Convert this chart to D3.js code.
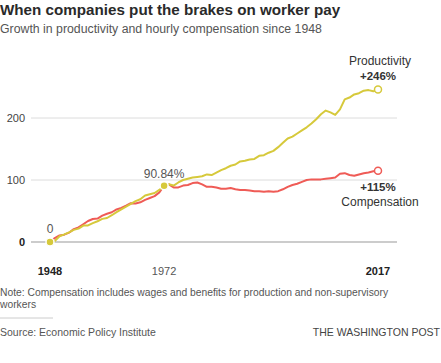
<!DOCTYPE html>
<html>
<head>
<meta charset="utf-8">
<script src="https://cdn.jsdelivr.net/npm/d3@7"></script>
<style>
  body { margin: 0; background: #fff; }
  svg { font-family: "Liberation Sans", Arial, sans-serif; }
  .ylab { fill: #444; font-size: 11px; }
</style>
</head>
<body>
<div id="chart"></div>
<script>
// data: cumulative % change since 1948
var years = d3.range(1948, 2018);

var productivity = [
  0, 1.5, 9.3, 12.3, 15.6, 19.5, 21.6, 26.5, 26.7, 30.4,
  33.5, 37.3, 38.7, 43.2, 48.2, 52.7, 57.2, 61.6, 66, 69,
  75, 77, 79, 84, 90.84, 93, 91, 96, 100, 102,
  104, 105, 106, 109, 108, 112, 116, 119, 123, 125,
  130, 131, 133, 134, 139, 140, 144, 147, 153, 160,
  167, 170, 175, 180, 185, 191, 198, 206, 212, 209,
  205, 214, 230, 233, 238, 240, 244, 245, 243, 246
];

var compensation = [
  0, 6.3, 10.5, 11.8, 15.0, 20.8, 23.5, 28.7, 33.9, 37.1,
  37.8, 42.5, 45.5, 48.0, 52.5, 55.1, 58.5, 62.5, 62, 64,
  68, 71, 74, 80, 90.84, 93, 88, 88, 91, 92,
  95, 96, 93, 89, 89, 88, 86, 86, 87, 85,
  84, 84, 83, 82, 82, 81, 82, 81, 82, 85,
  89, 92, 94, 97, 100, 101, 101, 101, 102, 103,
  104, 110, 111, 108, 107, 109, 111, 112, 114, 115
];

var yTicks = [0, 100, 200];
var xTicks = [1948, 1972, 2017];

var colorProd = "#d6c93b",
    colorComp = "#ef5b56";

var width = 441, height = 363;

var svg = d3.select("#chart").append("svg")
    .attr("width", width)
    .attr("height", height);

var x = d3.scaleLinear()
    .domain([1948, 2017])
    .range([50, 378]);

var y = d3.scaleLinear()
    .domain([0, 200])
    .range([242, 118]);

// title + subtitle
svg.append("text")
    .attr("x", 0).attr("y", 15)
    .style("font-size", "15.2px")
    .style("font-weight", "bold")
    .style("fill", "#2a2a2a")
    .text("When companies put the brakes on worker pay");

svg.append("text")
    .attr("x", 0).attr("y", 33)
    .style("font-size", "12.3px")
    .style("fill", "#555")
    .text("Growth in productivity and hourly compensation since 1948");

// gridlines
svg.append("g").selectAll("line")
    .data(yTicks)
  .enter().append("line")
    .attr("x1", 31).attr("x2", 397)
    .attr("y1", function(d) { return y(d); })
    .attr("y2", function(d) { return y(d); })
    .style("stroke", function(d) { return d === 0 ? "#bbb" : "#dcdcdc"; })
    .style("stroke-width", function(d) { return d === 0 ? 1.5 : 1; });

svg.selectAll(".ylab")
    .data(yTicks)
  .enter().append("text")
    .attr("class", "ylab")
    .attr("x", 25)
    .attr("y", function(d) { return y(d); })
    .attr("dy", "0.35em")
    .attr("text-anchor", "end")
    .style("font-weight", function(d) { return d === 0 ? "bold" : "normal"; })
    .style("fill", function(d) { return d === 0 ? "#222" : "#444"; })
    .text(function(d) { return d; });

// x labels
svg.selectAll(".xlab")
    .data(xTicks)
  .enter().append("text")
    .attr("class", "xlab")
    .attr("x", function(d) { return x(d); })
    .attr("y", 275)
    .attr("text-anchor", "middle")
    .style("font-size", "11px")
    .style("fill", function(d) { return d === 1972 ? "#555" : "#222"; })
    .style("font-weight", function(d) { return d === 1972 ? "normal" : "bold"; })
    .text(function(d) { return d; });

var line = d3.line()
    .x(function(d, i) { return x(years[i]); })
    .y(function(d) { return y(d); });

svg.append("path")
    .datum(compensation)
    .attr("fill", "none")
    .attr("stroke", colorComp)
    .attr("stroke-width", 2)
    .attr("stroke-linejoin", "round")
    .attr("d", line);

svg.append("path")
    .datum(productivity)
    .attr("fill", "none")
    .attr("stroke", colorProd)
    .attr("stroke-width", 2)
    .attr("stroke-linejoin", "round")
    .attr("d", line);

// markers
var i1972 = years.indexOf(1972), iLast = years.length - 1;

svg.selectAll(".dotFilled")
    .data([0, i1972])
  .enter().append("circle")
    .attr("class", "dotFilled")
    .attr("cx", function(i) { return x(years[i]); })
    .attr("cy", function(i) { return y(productivity[i]); })
    .attr("r", 4)
    .attr("fill", colorProd)
    .attr("stroke", "#fff")
    .attr("stroke-width", 1.5);

svg.append("circle")
    .attr("cx", x(years[iLast])).attr("cy", y(productivity[iLast]))
    .attr("r", 3.5)
    .attr("fill", "#fff")
    .attr("stroke", colorProd)
    .attr("stroke-width", 1.5);

svg.append("circle")
    .attr("cx", x(years[iLast])).attr("cy", y(compensation[iLast]))
    .attr("r", 3.5)
    .attr("fill", "#fff")
    .attr("stroke", colorComp)
    .attr("stroke-width", 1.5);

// annotations
svg.append("text")
    .attr("x", x(1948)).attr("y", y(0) - 9)
    .attr("text-anchor", "middle")
    .style("font-size", "12px").style("fill", "#555")
    .text("0");

svg.append("text")
    .attr("x", x(1972)).attr("y", y(90.84) - 8)
    .attr("text-anchor", "middle")
    .style("font-size", "12px").style("fill", "#555")
    .text("90.84%");

svg.append("text")
    .attr("x", 380).attr("y", 65)
    .attr("text-anchor", "middle")
    .style("font-size", "12px").style("fill", "#333")
    .text("Productivity");

svg.append("text")
    .attr("x", 378).attr("y", 80)
    .attr("text-anchor", "middle")
    .style("font-size", "11.5px").style("font-weight", "bold").style("fill", "#333")
    .text("+" + productivity[iLast] + "%");

svg.append("text")
    .attr("x", 378).attr("y", 191)
    .attr("text-anchor", "middle")
    .style("font-size", "11.5px").style("font-weight", "bold").style("fill", "#333")
    .text("+" + compensation[iLast] + "%");

svg.append("text")
    .attr("x", 380).attr("y", 206)
    .attr("text-anchor", "middle")
    .style("font-size", "12px").style("fill", "#333")
    .text("Compensation");

// footer
svg.append("text")
    .attr("x", 0).attr("y", 296)
    .style("font-size", "10.3px").style("fill", "#555")
    .text("Note: Compensation includes wages and benefits for production and non-supervisory");

svg.append("text")
    .attr("x", 0).attr("y", 308)
    .style("font-size", "10.3px").style("fill", "#555")
    .text("workers");

svg.append("line")
    .attr("x1", 0).attr("x2", 53)
    .attr("y1", 318).attr("y2", 318)
    .attr("stroke", "#ccc");

svg.append("text")
    .attr("x", 0).attr("y", 336)
    .style("font-size", "10.5px").style("fill", "#555")
    .text("Source: Economic Policy Institute");

svg.append("text")
    .attr("x", 440).attr("y", 336)
    .attr("text-anchor", "end")
    .style("font-size", "10.5px").style("fill", "#444")
    .text("THE WASHINGTON POST");
</script>
</body>
</html>
